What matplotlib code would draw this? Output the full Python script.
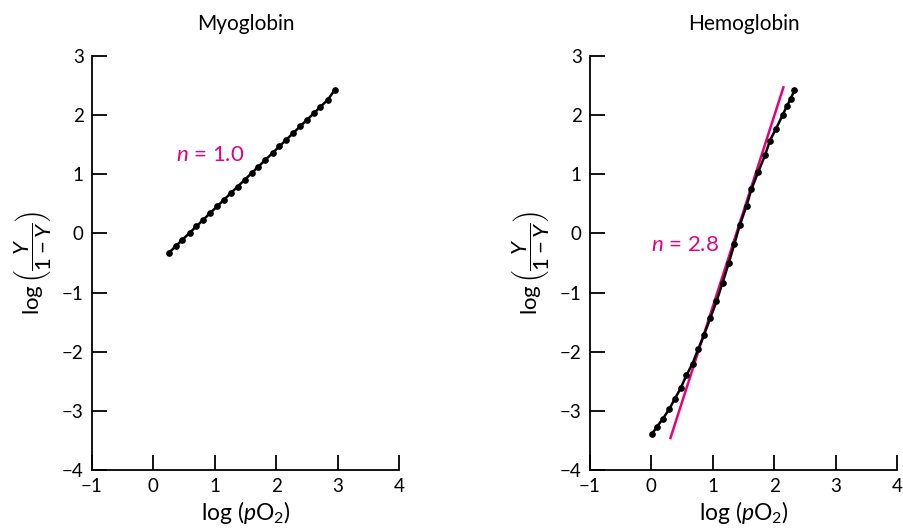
import matplotlib
matplotlib.use("Agg")
import matplotlib.pyplot as plt

plt.rcParams['font.family'] = ['Lato', 'DejaVu Sans']
plt.rcParams['mathtext.fontset'] = 'custom'
plt.rcParams['mathtext.rm'] = 'Lato'
plt.rcParams['mathtext.it'] = 'Lato:italic'
plt.rcParams['mathtext.bf'] = 'Lato:bold'
plt.rcParams['axes.unicode_minus'] = True

# ---- data ----
titles = ["Myoglobin", "Hemoglobin"]
x_ticks = [-1, 0, 1, 2, 3, 4]
y_ticks = [-4, -3, -2, -1, 0, 1, 2, 3]

myo_x = [0.25, 0.36, 0.47, 0.59, 0.70, 0.81, 0.92, 1.04, 1.15, 1.26, 1.37,
         1.49, 1.60, 1.71, 1.82, 1.94, 2.05, 2.16, 2.27, 2.39, 2.50, 2.61,
         2.72, 2.84, 2.95]
myo_y = [-0.33, -0.22, -0.11, 0.01, 0.12, 0.23, 0.34, 0.46, 0.57, 0.68, 0.79,
         0.91, 1.02, 1.13, 1.24, 1.36, 1.47, 1.58, 1.69, 1.81, 1.92, 2.03,
         2.14, 2.26, 2.42]

hb_x = [0.01, 0.09, 0.19, 0.29, 0.38, 0.48, 0.57, 0.67, 0.76, 0.86, 0.96,
        1.06, 1.16, 1.26, 1.35, 1.44, 1.55, 1.63, 1.74, 1.85, 1.93, 2.03,
        2.14, 2.21, 2.27, 2.33]
hb_y = [-3.39, -3.27, -3.13, -2.97, -2.80, -2.61, -2.40, -2.20, -1.96, -1.71,
        -1.43, -1.15, -0.83, -0.50, -0.18, 0.14, 0.47, 0.75, 1.04, 1.32,
        1.57, 1.77, 2.01, 2.16, 2.28, 2.42]

hill_fit_x = [0.31, 2.15]
hill_fit_y = [-3.46, 2.47]

labels_n = ["$n$ = 1.0", "$n$ = 2.8"]
label_pos = [(0.36, 1.32), (0.0, -0.2)]

magenta = '#E6007E'

fig = plt.figure(figsize=(9.04, 5.30), dpi=100)
ax1 = fig.add_axes([92/904, 1-470/530, 307/904, 414/530])
ax2 = fig.add_axes([590/904, 1-470/530, 307/904, 414/530])

for ax, title, lab, lp in zip([ax1, ax2], titles, labels_n, label_pos):
    ax.set_xlim(-1, 4)
    ax.set_ylim(-4, 3)
    ax.set_xticks(x_ticks)
    ax.set_yticks(y_ticks)
    ax.set_xticklabels([str(v).replace('-', '\u2212') for v in x_ticks])
    ax.set_yticklabels([str(v).replace('-', '\u2212') for v in y_ticks])
    for s in ['top', 'right']:
        ax.spines[s].set_visible(False)
    for s in ['left', 'bottom']:
        ax.spines[s].set_linewidth(1.3)
    ax.tick_params(direction='in', length=11, width=1.3, labelsize=13.5, pad=6,
                   colors='black')
    ax.set_xlabel('log ($p$O$_2$)', fontsize=16.5, labelpad=3)
    ax.set_ylabel(r'log$\,\left(\dfrac{Y}{1-Y}\right)$', fontsize=16, labelpad=6)
    ax.set_title(title, fontsize=15, pad=19)
    ax.text(lp[0], lp[1], lab, color=magenta, fontsize=16, ha='left', va='center')

ax1.plot(myo_x, myo_y, color='black', lw=1.8, marker='o', markersize=3.8)
ax2.plot(hill_fit_x, hill_fit_y, color=magenta, lw=1.8, zorder=2)
ax2.plot(hb_x, hb_y, color='black', lw=1.8, marker='o', markersize=3.8, zorder=3)

fig.savefig('out.png', dpi=100)
